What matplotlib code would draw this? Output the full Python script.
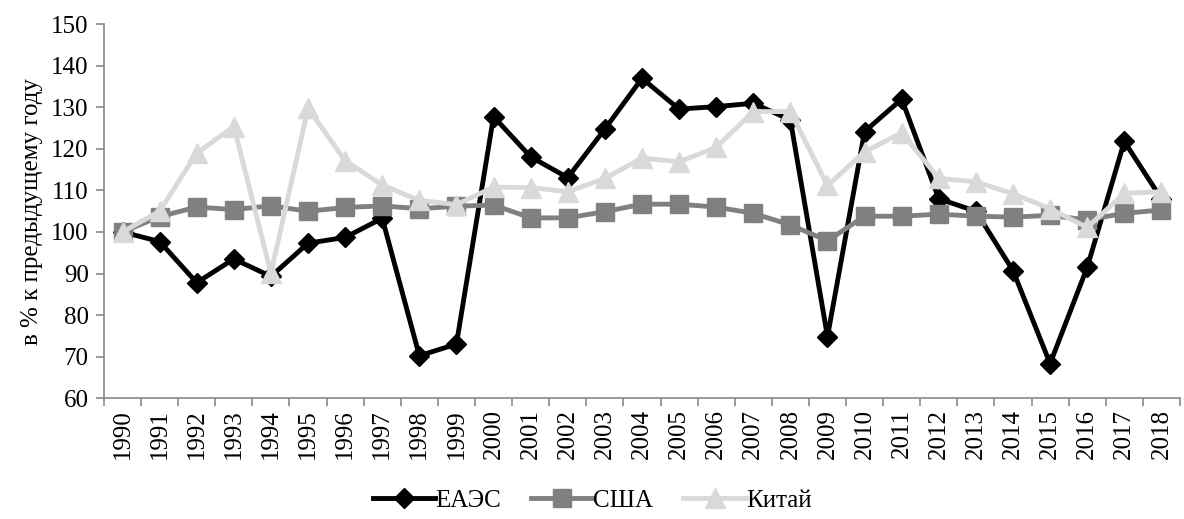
import matplotlib

matplotlib.use("Agg")
import matplotlib.pyplot as plt
from matplotlib.ticker import FixedLocator

years = list(range(1990, 2019))
eaes = [100, 97.7, 87.8, 93.5, 89.3, 97.3, 98.7, 103.3, 70.2, 73.0,
        127.8, 118.1, 113.1, 124.8, 137.0, 129.6, 130.2, 131.0, 127.0, 74.8,
        124.2, 132.0, 108.0, 105.0, 90.7, 68.3, 91.5, 121.8, 108.0]
usa = [100, 103.7, 106.0, 105.4, 106.3, 105.0, 105.9, 106.3, 105.6, 106.2,
       106.5, 103.4, 103.4, 104.9, 106.7, 106.7, 106.0, 104.5, 101.7, 97.9,
       103.8, 103.8, 104.3, 103.8, 103.6, 104.0, 102.9, 104.5, 105.3]
china = [100, 105.0, 119.0, 125.4, 90.1, 129.8, 117.2, 111.3, 107.6, 106.6,
         110.8, 110.7, 109.7, 112.9, 117.8, 116.9, 120.4, 129.0, 129.0, 111.2,
         119.3, 123.9, 112.9, 112.1, 109.2, 105.6, 101.1, 109.3, 109.7]

plt.rcParams["font.family"] = "Liberation Serif"

fig = plt.figure(figsize=(11.84, 5.19), dpi=100)
ax = fig.add_axes([0.0878, 0.233, 0.9088, 0.72])

x = list(range(len(years)))
ax.plot(x, eaes, color="black", lw=3.5, marker="D", ms=10, label="ЕАЭС")
ax.plot(x, usa, color="#808080", lw=3.5, marker="s", ms=13, label="США")
ax.plot(x, china, color="#d9d9d9", lw=3.5, marker="^", ms=14, label="Китай")

ax.set_xlim(-0.5, len(years) - 0.5)
ax.set_ylim(60, 150)
ax.set_yticks(range(60, 151, 10))
ax.set_xticks(x)
ax.set_xticklabels([str(y) for y in years], rotation=90)
ax.xaxis.set_minor_locator(FixedLocator([i - 0.5 for i in range(len(years) + 1)]))
ax.tick_params(axis="x", which="major", length=0, labelsize=18, pad=8)
ax.tick_params(axis="x", which="minor", length=6, color="#898989", width=1.2)
ax.tick_params(axis="y", length=6, color="#898989", width=1.2, labelsize=18, pad=5)

for s in ("top", "right"):
    ax.spines[s].set_visible(False)
for s in ("left", "bottom"):
    ax.spines[s].set_color("#898989")
    ax.spines[s].set_linewidth(1.2)

ax.set_ylabel("в % к предыдущему году", fontsize=18, labelpad=6)

fig.legend(loc="lower center", bbox_to_anchor=(0.5, -0.03), ncol=3,
           frameon=False, fontsize=18, handlelength=2.5, handletextpad=0.0,
           columnspacing=1.2)

fig.savefig("out.png", dpi=100)
